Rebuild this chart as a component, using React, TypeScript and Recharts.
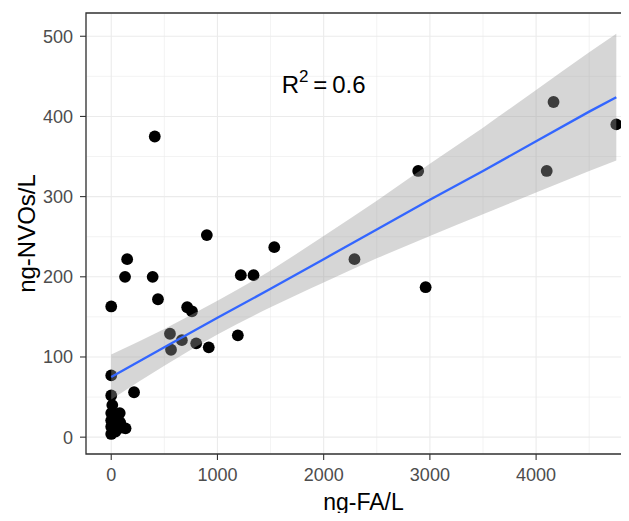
import React from 'react';
import {
  ComposedChart,
  Scatter,
  Area,
  Line,
  XAxis,
  YAxis,
  CartesianGrid,
  ReferenceLine,
  ReferenceArea,
  ReferenceDot,
} from 'recharts';

const FONT = '"Liberation Sans", Arial, Helvetica, sans-serif';

// Sampled concentrations: formaldehyde (x) against NVOs (y)
const faValues = [
  410, 900, 1535, 150, 130, 390, 1220, 1340, 0, 440, 715, 760, 553, 563, 665, 800, 918, 1192,
  0, 215, 0, 2890, 4164, 4755, 4100, 2290, 2960,
  10, 0, 50, 85, 135, 0, 0, 40, 0, 25, 80, 100,
];
const nvoValues = [
  375, 252, 237, 222, 200, 200, 202, 202, 163, 172, 162, 157, 129, 109, 121, 117, 112, 127,
  77, 56, 52, 332, 418, 390, 332, 222, 187,
  40, 30, 26, 18, 11, 21, 13, 7, 4, 16, 30, 12,
];

// Linear fit with its 95% confidence band
const fitX = [0, 500, 1000, 1500, 2000, 2500, 3000, 3500, 4000, 4500, 4755];
const fitY = [75, 112, 149, 185, 222, 259, 296, 332, 369, 406, 424];
const bandLow = [47, 89, 128, 162, 193, 223, 251, 278, 305, 332, 345];
const bandHigh = [103, 135, 170, 208, 251, 295, 341, 386, 433, 480, 503];

const xTicks = [0, 1000, 2000, 3000, 4000];
const yTicks = [0, 100, 200, 300, 400, 500];
const xMinor = [500, 1500, 2500, 3500, 4500];
const yMinor = [50, 150, 250, 350, 450];

const xDomain = [-237.5, 4987.5];
const yDomain = [-21, 529];

const points = faValues.map((x, i) => ({ x, y: nvoValues[i] }));
const smooth = fitX.map((x, i) => ({ x, fit: fitY[i], band: [bandLow[i], bandHigh[i]] }));

const W = 650;
const H = 521;
const MARGIN = { top: 13, right: 9, bottom: 27, left: 0 };

const Dot = (props: any) => <circle cx={props.cx} cy={props.cy} r={5.9} fill="#000000" />;

const XTitle = ({ viewBox }: any) => (
  <text
    x={viewBox.x + viewBox.width / 2}
    y={viewBox.y + 56}
    textAnchor="middle"
    fontFamily={FONT}
    fontSize={23}
    fill="#000000"
  >
    ng-FA/L
  </text>
);

const YTitle = ({ viewBox }: any) => {
  const cx = 27;
  const cy = viewBox.y + viewBox.height / 2;
  return (
    <text
      x={cx}
      y={cy}
      dy="0.35em"
      textAnchor="middle"
      transform={`rotate(-90, ${cx}, ${cy})`}
      fontFamily={FONT}
      fontSize={24}
      fill="#000000"
    >
      ng-NVOs/L
    </text>
  );
};

const RSquared = ({ viewBox }: any) => {
  const x = viewBox.x + viewBox.width / 2;
  const y = viewBox.y + viewBox.height / 2;
  return (
    <text x={x} y={y} dy="0.35em" textAnchor="middle" fontFamily={FONT} fontSize={24} fill="#000000">
      R
      <tspan dy={-11} fontSize={17}>2</tspan>
      <tspan dy={11}>{'\u2009=\u20090.6'}</tspan>
    </text>
  );
};

// both layers share the same axes so their scales line up exactly
const axes = (visible: boolean) => {
  const tickStyle = { fontFamily: FONT, fontSize: 18, fill: '#4d4d4d' };
  const tickLine = visible ? { stroke: '#333333', strokeWidth: 1.1 } : false;
  return [
    <XAxis
      key="x"
      dataKey="x"
      type="number"
      domain={xDomain}
      ticks={xTicks}
      allowDataOverflow
      height={40}
      axisLine={false}
      tickLine={tickLine}
      tickSize={6}
      tickMargin={8}
      tick={visible ? tickStyle : false}
      label={visible ? { content: XTitle } : undefined}
    />,
    <YAxis
      key="y"
      type="number"
      domain={yDomain}
      ticks={yTicks}
      allowDataOverflow
      width={86}
      axisLine={false}
      tickLine={tickLine}
      tickSize={6}
      tickMargin={7}
      tick={visible ? tickStyle : false}
      label={visible ? { content: YTitle } : undefined}
    />,
  ];
};

export default function App() {
  return (
    <div
      style={{
        margin: -8,
        width: 629,
        height: 521,
        overflow: 'hidden',
        background: '#ffffff',
        position: 'relative',
      }}
    >
      {/* grid, axes and the sample points */}
      <div style={{ position: 'absolute', left: 0, top: 0 }}>
        <ComposedChart width={W} height={H} data={smooth} margin={MARGIN}>
          <CartesianGrid stroke="#ebebeb" strokeWidth={1.1} />
          {xMinor.map((v) => (
            <ReferenceLine key={`vx${v}`} x={v} stroke="#ebebeb" strokeWidth={0.6} />
          ))}
          {yMinor.map((v) => (
            <ReferenceLine key={`hy${v}`} y={v} stroke="#ebebeb" strokeWidth={0.6} />
          ))}
          {axes(true)}
          <Scatter data={points} dataKey="y" shape={Dot} isAnimationActive={false} />
        </ComposedChart>
      </div>
      {/* fitted line and translucent confidence band drawn over the points */}
      <div style={{ position: 'absolute', left: 0, top: 0 }}>
        <ComposedChart width={W} height={H} data={smooth} margin={MARGIN}>
          {axes(false)}
          <Area
            dataKey="band"
            type="monotone"
            stroke="none"
            fill="#999999"
            fillOpacity={0.4}
            isAnimationActive={false}
          />
          <Line
            dataKey="fit"
            type="linear"
            stroke="#3366ff"
            strokeWidth={2.3}
            dot={false}
            activeDot={false}
            isAnimationActive={false}
          />
          <ReferenceDot
            x={2000}
            y={440}
            r={0}
            fill="none"
            stroke="none"
            label={{ content: RSquared }}
          />
          <ReferenceArea
            x1={xDomain[0]}
            x2={xDomain[1]}
            y1={yDomain[0]}
            y2={yDomain[1]}
            fill="none"
            fillOpacity={0}
            stroke="#333333"
            strokeWidth={1.3}
          />
        </ComposedChart>
      </div>
    </div>
  );
}
